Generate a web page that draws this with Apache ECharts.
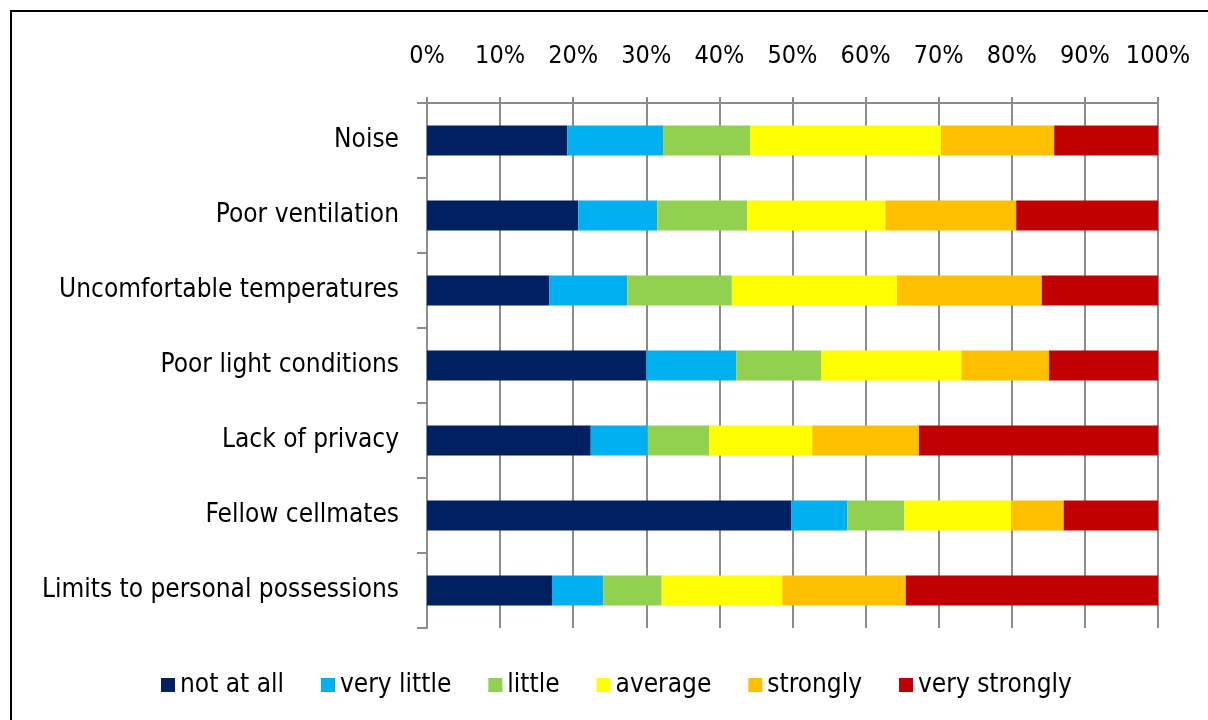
<!DOCTYPE html>
<html><head><meta charset="utf-8">
<script src="https://cdn.jsdelivr.net/npm/echarts@6/dist/echarts.min.js"></script>
<style>html,body{margin:0;padding:0;background:#fff}#c{width:1208px;height:720px}</style>
</head><body><div id="c"></div>
<script>
const categories = ["Noise","Poor ventilation","Uncomfortable temperatures","Poor light conditions","Lack of privacy","Fellow cellmates","Limits to personal possessions"];
const seriesNames = ["not at all","very little","little","average","strongly","very strongly"];
const notAtAll     = [19.2, 20.7, 16.7, 30.0, 22.4, 49.8, 17.1];
const veryLittle   = [13.1, 10.8, 10.7, 12.3, 7.8, 7.7, 7.0];
const little       = [11.9, 12.3, 14.3, 11.6, 8.4, 7.8, 8.0];
const average      = [26.1, 18.9, 22.6, 19.2, 14.1, 14.6, 16.5];
const strongly     = [15.5, 17.9, 19.8, 12.0, 14.6, 7.2, 16.9];
const veryStrongly = [14.2, 19.4, 15.9, 14.9, 32.7, 12.9, 34.5];
const tickLabels = ["0%","10%","20%","30%","40%","50%","60%","70%","80%","90%","100%"];
const colors = ["#002060","#00B0F0","#92D050","#FFFF00","#FFC000","#C00000"];
const values = [notAtAll, veryLittle, little, average, strongly, veryStrongly];

const FONT = "'DejaVu Sans Condensed','Liberation Sans Narrow',sans-serif";
const chart = echarts.init(document.getElementById('c'));
chart.setOption({
  animation:false,
  color: colors,
  textStyle:{fontFamily:FONT},
  graphic:[{type:'rect',shape:{x:11,y:11,width:1400,height:900},style:{fill:'none',stroke:'#000',lineWidth:2},z:100}],
  grid:{left:427,right:50,top:103,bottom:92},
  legend:{
    bottom:17, left:156, itemWidth:14, itemHeight:14, itemGap:37,
    icon:'rect',
    textStyle:{fontSize:26,color:'#000',fontFamily:FONT},
    data: seriesNames
  },
  xAxis:{
    type:'value', position:'top', min:0, max:100, interval:10,
    axisLine:{show:true,lineStyle:{color:'#8c8c8c',width:2}},
    axisTick:{show:true,length:6,lineStyle:{color:'#8c8c8c',width:2}},
    splitLine:{show:true,lineStyle:{color:'#8c8c8c',width:2}},
    axisLabel:{fontSize:25,color:'#000',margin:34,fontFamily:FONT,
      formatter:(v)=>tickLabels[Math.round(v/10)]}
  },
  yAxis:{
    type:'category', inverse:true, data:categories,
    axisLine:{show:true,lineStyle:{color:'#8c8c8c',width:2}},
    axisTick:{show:true,length:10,lineStyle:{color:'#8c8c8c',width:2}},
    axisLabel:{fontSize:26,color:'#000',margin:28,fontFamily:FONT}
  },
  series: seriesNames.map((n,i)=>({
    name:n, type:'bar', stack:'total', barWidth:30, data:values[i],
    itemStyle:{color:colors[i]}
  }))
});
</script></body></html>
